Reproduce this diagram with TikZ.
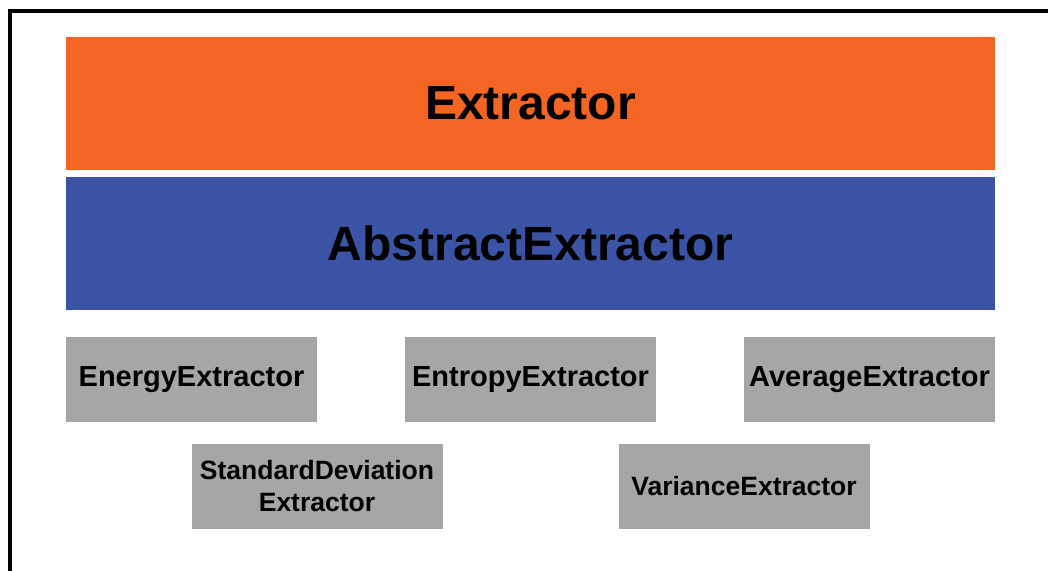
\documentclass[tikz,border=0pt]{standalone}
\usepackage{fontspec}
\setmainfont{Liberation Sans}
\definecolor{orangebar}{HTML}{F46524}
\definecolor{bluebar}{HTML}{3A53A4}
\definecolor{graybox}{HTML}{A6A6A6}
\begin{document}
\begin{tikzpicture}[x=1pt,y=-1pt,
  layer/.style={rectangle, inner sep=0pt, minimum width=929pt, minimum height=133pt,
    font=\fontsize{48}{52}\selectfont\bfseries, text=black},
  leaf/.style={rectangle, inner sep=0pt, minimum width=251pt, minimum height=85pt,
    fill=graybox, font=\fontsize{29}{32}\selectfont\bfseries, text=black, align=center},
  leaflow/.style={leaf, font=\fontsize{26.5}{32}\selectfont\bfseries}]
\useasboundingbox (0,0) rectangle (1048,570);
% frame, open towards the right and bottom
\draw[line width=4pt] (10,572) -- (10,10.5) -- (1050,10.5);
% interface and base class
\node[layer, fill=orangebar] (extractor) at (530.5,103.5) {Extractor};
\node[layer, fill=bluebar] (abstract) at (530.5,243.5) {AbstractExtractor};
% concrete extractors
\node[leaf] (energy) at (191.5,379.5) {EnergyExtractor};
\node[leaf] (entropy) at (530.5,379.5) {EntropyExtractor};
\node[leaf] (average) at (869.5,379.5) {AverageExtractor};
\node[leaflow] (stddev) at (317,486.5) {StandardDeviation\\Extractor};
\node[leaflow] (variance) at (744,486.5) {VarianceExtractor};
\end{tikzpicture}
\end{document}
